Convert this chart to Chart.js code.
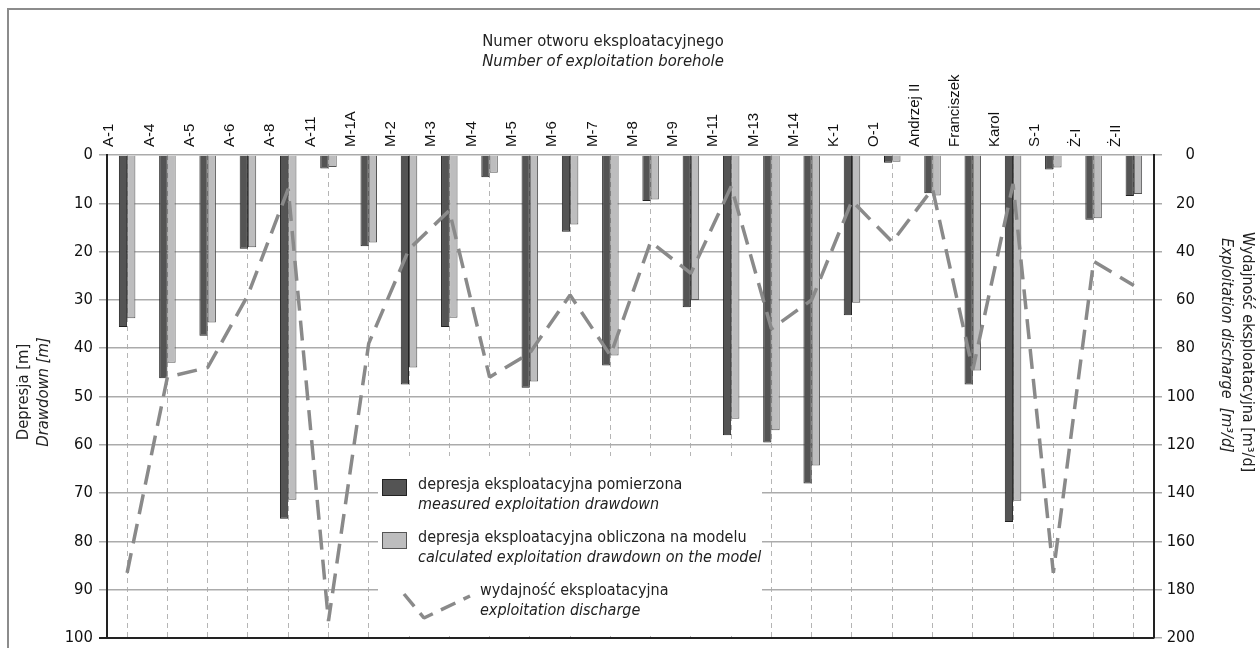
<!DOCTYPE html>
<html lang="pl">
<head>
  <meta charset="UTF-8">
  <title>Depresja i wydajność eksploatacyjna</title>
  <script src="https://cdn.jsdelivr.net/npm/chart.js"></script>
  <style>
    html, body { margin: 0; padding: 0; background: #fff; }
    #wrap { position: relative; width: 1260px; height: 648px; }
  </style>
</head>
<body>
<div id="wrap"><canvas id="chart" width="1260" height="648"></canvas></div>
<script>
// borehole names (top axis)
const boreholes = ['A-1', 'A-4', 'A-5', 'A-6', 'A-8', 'A-11', 'M-1A', 'M-2', 'M-3', 'M-4', 'M-5', 'M-6', 'M-7',
  'M-8', 'M-9', 'M-11', 'M-13', 'M-14', 'K-1', 'O-1', 'Andrzej II', 'Franciszek', 'Karol', 'S-1', 'Ż-I', 'Ż-II'];

// drawdown [m]
const measured = [35.6, 46.2, 37.4, 19.4, 75.3, 2.8, 18.9, 47.5, 35.6, 4.6, 48.2, 15.9, 43.6,
  9.5, 31.5, 58.0, 59.5, 68.0, 33.2, 1.6, 7.9, 47.5, 76.0, 3.0, 13.4, 8.5];
const calculated = [33.8, 43.0, 34.7, 19.1, 71.4, 2.5, 18.1, 44.0, 33.7, 3.7, 46.9, 14.4, 41.5,
  9.2, 30.0, 54.6, 57.0, 64.3, 30.6, 1.4, 8.4, 44.6, 71.6, 2.6, 13.1, 8.1];

// exploitation discharge [m3/d]
const discharge = [173, 92, 88, 58, 14, 193, 78, 39, 23, 92, 82, 58, 83,
  36, 49, 13, 72, 60, 19, 36, 14, 89, 12, 173, 44, 54];

const NARROW = "'Liberation Sans Narrow', 'DejaVu Sans Condensed', 'Roboto Condensed', sans-serif";
const DARK = '#545454', LIGHT = '#bdbdbe', LINE = '#8a8a8a', GRID = '#ababab';

// keep the vertical axes from reserving room for half-labels at the ends
function fixY(width) {
  return scale => {
    scale.width = width;
    scale.paddingTop = 0;
    scale.paddingBottom = 0;
  };
}

const decor = {
  id: 'decor',
  beforeDraw(chart) {
    const ctx = chart.ctx;
    ctx.save();
    ctx.fillStyle = '#fff';
    ctx.fillRect(0, 0, chart.width, chart.height);
    // frame: only left and top edges fall inside the page
    ctx.strokeStyle = '#8c8c8c';
    ctx.lineWidth = 2;
    ctx.strokeRect(8, 9, 1400, 700);
    ctx.restore();
  },
  beforeDatasetsDraw(chart) {
    // white patch behind the legend, stops above the bottom axis line
    const ctx = chart.ctx;
    const bottom = chart.chartArea.bottom - 2;
    ctx.save();
    ctx.fillStyle = '#fff';
    ctx.fillRect(378, 456, 384, bottom - 456);
    ctx.restore();
  },
  afterDraw(chart) {
    const ctx = chart.ctx;
    ctx.save();
    ctx.fillStyle = '#222';
    ctx.textBaseline = 'middle';

    // top title
    ctx.textAlign = 'center';
    ctx.font = '16.5px ' + NARROW;
    ctx.fillText('Numer otworu eksploatacyjnego', 603, 42);
    ctx.font = 'italic 16.5px ' + NARROW;
    ctx.fillText('Number of exploitation borehole', 603, 62);

    // left axis title
    ctx.save();
    ctx.translate(24, 392);
    ctx.rotate(-Math.PI / 2);
    ctx.font = '16.5px ' + NARROW;
    ctx.fillText('Depresja [m]', 0, 0);
    ctx.font = 'italic 16.5px ' + NARROW;
    ctx.fillText('Drawdown [m]', 0, 20);
    ctx.restore();

    // right axis title
    ctx.save();
    ctx.translate(1247, 232);
    ctx.rotate(Math.PI / 2);
    ctx.textAlign = 'left';
    ctx.font = '16px ' + NARROW;
    ctx.fillText('Wydajność eksploatacyjna [m³/d]', 0, 0);
    ctx.font = 'italic 16px ' + NARROW;
    ctx.fillText('Exploitation discharge  [m³/d]', 6, 21);
    ctx.restore();

    // legend
    ctx.textAlign = 'left';
    ctx.lineWidth = 1;
    ctx.fillStyle = DARK;
    ctx.strokeStyle = '#222';
    ctx.fillRect(382, 479, 24, 16);
    ctx.strokeRect(382.5, 479.5, 24, 16);
    ctx.fillStyle = LIGHT;
    ctx.strokeStyle = '#555';
    ctx.fillRect(382, 532, 24, 16);
    ctx.strokeRect(382.5, 532.5, 24, 16);

    ctx.strokeStyle = LINE;
    ctx.lineWidth = 3.5;
    ctx.lineJoin = 'bevel';
    ctx.setLineDash([16, 9]);
    ctx.beginPath();
    ctx.moveTo(404, 594);
    ctx.lineTo(424, 618);
    ctx.lineTo(470, 596);
    ctx.stroke();
    ctx.setLineDash([]);

    ctx.fillStyle = '#222';
    ctx.font = '16px ' + NARROW;
    ctx.fillText('depresja eksploatacyjna pomierzona', 418, 485);
    ctx.fillText('depresja eksploatacyjna obliczona na modelu', 418, 538);
    ctx.fillText('wydajność eksploatacyjna', 480, 591);
    ctx.font = 'italic 16px ' + NARROW;
    ctx.fillText('measured exploitation drawdown', 418, 505);
    ctx.fillText('calculated exploitation drawdown on the model', 418, 558);
    ctx.fillText('exploitation discharge', 480, 611);
    ctx.restore();
  }
};

new Chart(document.getElementById('chart'), {
  type: 'bar',
  data: {
    labels: boreholes,
    datasets: [
      {
        label: 'depresja eksploatacyjna pomierzona',
        data: measured,
        backgroundColor: DARK,
        borderColor: '#222',
        borderWidth: 1,
        yAxisID: 'y',
        order: 1
      },
      {
        label: 'depresja eksploatacyjna obliczona na modelu',
        data: calculated,
        backgroundColor: LIGHT,
        borderColor: '#555',
        borderWidth: 1,
        yAxisID: 'y',
        order: 1
      },
      {
        type: 'line',
        label: 'wydajność eksploatacyjna',
        data: discharge,
        borderColor: LINE,
        borderWidth: 3.5,
        borderDash: [20, 10],
        borderJoinStyle: 'bevel',
        pointRadius: 0,
        tension: 0,
        fill: false,
        yAxisID: 'y2',
        order: 0
      }
    ]
  },
  options: {
    responsive: false,
    animation: false,
    categoryPercentage: 0.41,
    barPercentage: 1,
    layout: { padding: { left: 0, right: 65, top: 0, bottom: 10 } },
    plugins: {
      legend: { display: false },
      tooltip: { enabled: false }
    },
    scales: {
      x: {
        position: 'top',
        afterFit(scale) { scale.height = 155; },
        grid: { offset: false, drawTicks: false, color: '#b5b5b5', lineWidth: 1 },
        border: { display: false, dash: [5, 4] },
        ticks: {
          minRotation: 90, maxRotation: 90, autoSkip: false, padding: 8,
          color: '#111', font: { family: "'Liberation Sans', Arial, sans-serif", size: 15 }
        }
      },
      y: {
        position: 'left',
        min: 0, max: 100, reverse: true,
        afterFit: fixY(107),
        grid: {
          color: c => c.tick && c.tick.value === 100 ? '#222' : GRID,
          lineWidth: c => c.tick && c.tick.value === 100 ? 2 : 1.5,
          tickLength: 8
        },
        border: { color: '#222', width: 2 },
        ticks: { stepSize: 10, padding: 6, color: '#111', font: { family: NARROW, size: 16.5 } }
      },
      y2: {
        position: 'right',
        min: 0, max: 200, reverse: true,
        afterFit: fixY(41),
        grid: { drawOnChartArea: false, color: GRID, lineWidth: 1.5, tickLength: 8 },
        border: { color: '#222', width: 2 },
        ticks: { stepSize: 20, crossAlign: 'far', color: '#111', font: { family: NARROW, size: 16.5 } }
      }
    }
  },
  plugins: [decor]
});
</script>
</body>
</html>
